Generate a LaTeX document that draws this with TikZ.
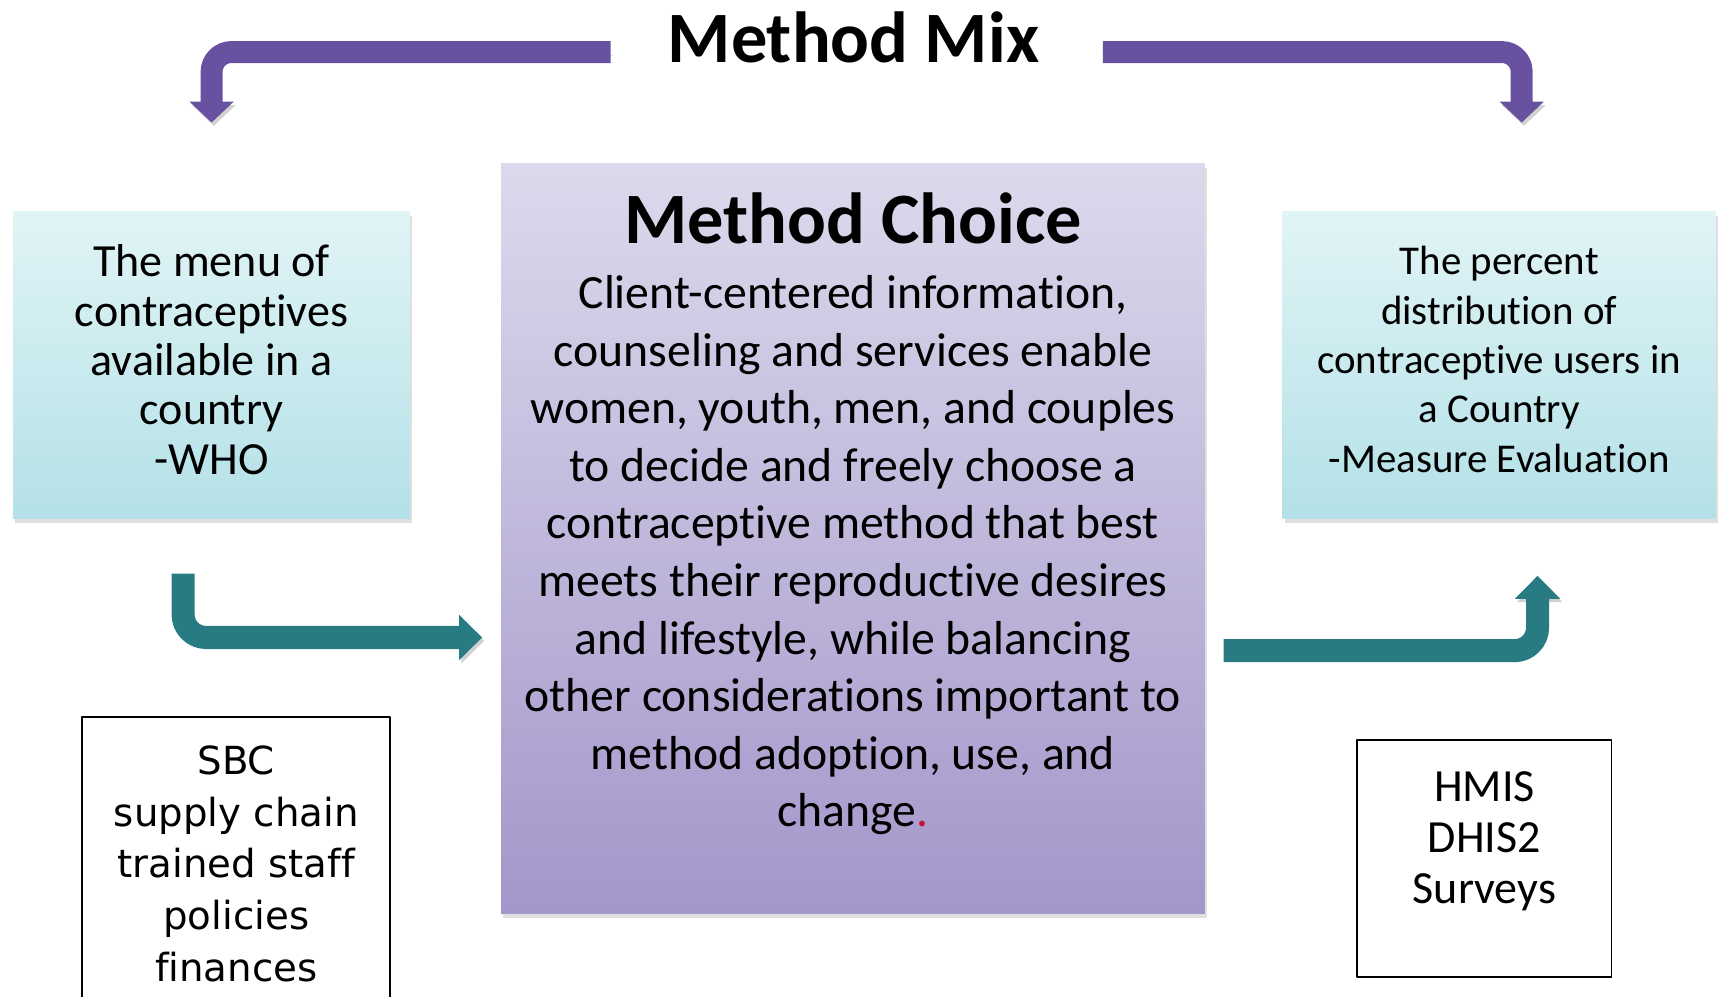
\documentclass[tikz,border=0pt]{standalone}
\usepackage{fontspec}
\setmainfont{Carlito}[Ligatures=NoCommon]
\newfontfamily\sbcfont{DejaVu Sans}[Ligatures=NoCommon]
\usetikzlibrary{positioning,arrows.meta,shadows}
\definecolor{mixpurple}{HTML}{6951A1}
\definecolor{flowteal}{HTML}{287A83}
\definecolor{cyantop}{HTML}{E1F4F6}
\definecolor{cyanbot}{HTML}{B3E1E7}
\definecolor{choicetop}{HTML}{DDD9EC}
\definecolor{choicebot}{HTML}{A396CA}
\definecolor{dotred}{HTML}{C8103C}
\begin{document}
\begin{tikzpicture}[x=1pt,y=-1pt,line join=round,
	mixarrow/.style={draw=mixpurple,line width=20pt,rounded corners=18pt,-{Triangle[width=39pt,length=19pt]},
		preaction={draw=black!18,transform canvas={xshift=2pt,yshift=-3pt}}},
	flowarrow/.style={draw=flowteal,line width=21pt,rounded corners=21pt,-{Triangle[width=40pt,length=21pt]},
		preaction={draw=black!18,transform canvas={xshift=2pt,yshift=-3pt}}},
	defbox/.style={rectangle,top color=cyantop,bottom color=cyanbot,
		drop shadow={shadow xshift=2pt,shadow yshift=-4pt,opacity=.25}},
	outbox/.style={rectangle,draw=black,line width=1.5pt,fill=white,align=center},
	]
	\clip (0,0) rectangle (1568,909);
	\node[font=\bfseries\fontsize{66}{70}\selectfont,anchor=base] (mix) at (778.5,57) {Method Mix};
	\node[defbox,minimum width=362pt,minimum height=280pt] (menu) at (193,333) {};
	\node[font=\fontsize{42}{45}\selectfont,align=center] (menutext) at (193,328)
		{The menu of\\contraceptives\\available in a\\country\\-WHO};
	\node[defbox,minimum width=395pt,minimum height=280pt] (share) at (1367.5,333) {};
	\node[font=\fontsize{37.3}{45}\selectfont,align=center] (sharetext) at (1367.5,328)
		{The percent\\distribution of\\contraceptive users in\\a Country\\-Measure Evaluation};
	\node[rectangle,top color=choicetop,bottom color=choicebot,minimum width=642pt,minimum height=684pt,
		drop shadow={shadow xshift=2pt,shadow yshift=-4pt,opacity=.25}] (choice) at (778,491) {};
	\node[font=\bfseries\fontsize{66}{70}\selectfont,anchor=base] (choicetitle) at (778,222) {Method Choice};
	\node[font=\fontsize{43.5}{52.5}\selectfont,align=center] (choicetext) at (778,506.5)
		{Client-centered information,\\counseling and services enable\\women, youth, men, and couples\\to decide and freely choose a\\contraceptive method that best\\meets their reproductive desires\\and lifestyle, while balancing\\other considerations important to\\method adoption, use, and\\change{\color{dotred}.}};
	\node[outbox,minimum width=281pt,minimum height=268pt,font=\sbcfont\fontsize{35.3}{47}\selectfont] (sbc) at (215.5,788)
		{SBC\\supply chain\\trained staff\\policies\\finances};
	\node[outbox,minimum width=232pt,minimum height=216pt] (hmis) at (1354,783) {};
	\node[font=\fontsize{42}{46.5}\selectfont,align=center] (hmistext) at (1354,767) {HMIS\\DHIS2\\Surveys};
	\coordinate (mixL) at (557,47.5);
	\coordinate (mixR) at (1006,47.5);
	\draw[mixarrow] (mixL) -| ([yshift=81pt]menu.north);
	\draw[mixarrow] (mixR) -| ([xshift=20.5pt,yshift=81pt]share.north);
	\draw[flowarrow] ([xshift=-26pt,yshift=-50pt]menu.south) |- ([xshift=-17pt,yshift=-90.5pt]choice.west);
	\draw[flowarrow] ([xshift=17pt,yshift=-102.5pt]choice.east) -| ([xshift=35pt,yshift=-52pt]share.south);
\end{tikzpicture}
\end{document}
